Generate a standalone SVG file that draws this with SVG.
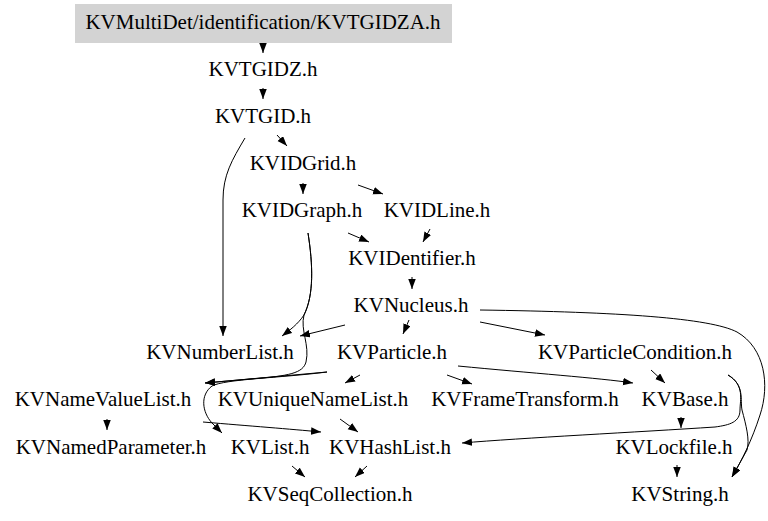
<svg xmlns="http://www.w3.org/2000/svg" width="768" height="521" viewBox="0 0 768 521">
<style>
text{font-family:"Liberation Serif","Times New Roman",serif;font-size:21px;fill:#000;text-anchor:middle}
.e path{fill:none;stroke:#000;stroke-width:1;marker-end:url(#ah)}
</style>
<defs>
<marker id="ah" markerUnits="userSpaceOnUse" markerWidth="11" markerHeight="8" refX="10" refY="3.75" orient="auto">
<path d="M0,0 L10,3.75 L0,7.5 z" fill="#000"/>
</marker>
</defs>
<rect width="768" height="521" fill="#fff"/>
<g class="e" id="edges">
<path d="M263,42 L263,53"/>
<path d="M263,88 L263,99"/>
<path d="M277,135 L287,146"/>
<path d="M245,138 C232,160 223,175 223,200 L223,336"/>
<path d="M303,183 L303,194"/>
<path d="M358,185 L383,194"/>
<path d="M348,233 L369,242"/>
<path d="M430,229 L423,242"/>
<path d="M412,277 L412,289"/>
<path d="M308,233 C313,265 314,295 304,315 C298,324 290,330 282,336"/>
<path d="M308,233 C313,265 314,295 304,315 C300,330 310,345 306,362 C303,373 290,376 250,379 L205,383"/>
<path d="M345,325 L300,336"/>
<path d="M409,320 L403,334"/>
<path d="M480,322 L545,335"/>
<path d="M480,310 C620,312 710,318 737,332 C765,348 770,385 760,415 C752,440 742,460 732,477"/>
<path d="M327,372 L205,383"/>
<path d="M327,372 C280,378 225,379 212,386 C200,395 202,412 212,423 L222,433"/>
<path d="M360,375 L345,383"/>
<path d="M447,375 L472,384"/>
<path d="M458,366 C530,373 600,378 633,383"/>
<path d="M651,370 L665,383"/>
<path d="M728,375 C745,385 740,400 740,410 C740,422 730,425 715,427 C640,432 520,438 462,443"/>
<path d="M728,375 C745,385 740,400 742,410 C746,425 750,440 747,450 L732,477"/>
<path d="M681,417 L681,428"/>
<path d="M677,465 L677,477"/>
<path d="M107,419 L107,430"/>
<path d="M203,422 C250,426 290,429 321,432"/>
<path d="M340,419 L358,432"/>
<path d="M292,466 L305,477"/>
<path d="M367,466 L355,477"/>
</g>
<g id="n0"><rect x="75" y="4" width="377" height="39" fill="#d3d3d3"/><text x="263" y="29">KVMultiDet/identification/KVTGIDZA.h</text></g>
<g id="n1"><text x="263" y="76">KVTGIDZ.h</text></g>
<g id="n2"><text x="263" y="123">KVTGID.h</text></g>
<g id="n3"><text x="303" y="170">KVIDGrid.h</text></g>
<g id="n4"><text x="302" y="217">KVIDGraph.h</text></g>
<g id="n5"><text x="437" y="217">KVIDLine.h</text></g>
<g id="n6"><text x="412" y="265">KVIDentifier.h</text></g>
<g id="n7"><text x="411" y="312">KVNucleus.h</text></g>
<g id="n8"><text x="220" y="359">KVNumberList.h</text></g>
<g id="n9"><text x="392" y="359">KVParticle.h</text></g>
<g id="n10"><text x="635" y="359">KVParticleCondition.h</text></g>
<g id="n11"><text x="103" y="406">KVNameValueList.h</text></g>
<g id="n12"><text x="313" y="406">KVUniqueNameList.h</text></g>
<g id="n13"><text x="525" y="406">KVFrameTransform.h</text></g>
<g id="n14"><text x="685" y="406">KVBase.h</text></g>
<g id="n15"><text x="111" y="454">KVNamedParameter.h</text></g>
<g id="n16"><text x="270" y="454">KVList.h</text></g>
<g id="n17"><text x="390" y="454">KVHashList.h</text></g>
<g id="n18"><text x="674" y="454">KVLockfile.h</text></g>
<g id="n19"><text x="330" y="501">KVSeqCollection.h</text></g>
<g id="n20"><text x="680" y="501">KVString.h</text></g>
</svg>
